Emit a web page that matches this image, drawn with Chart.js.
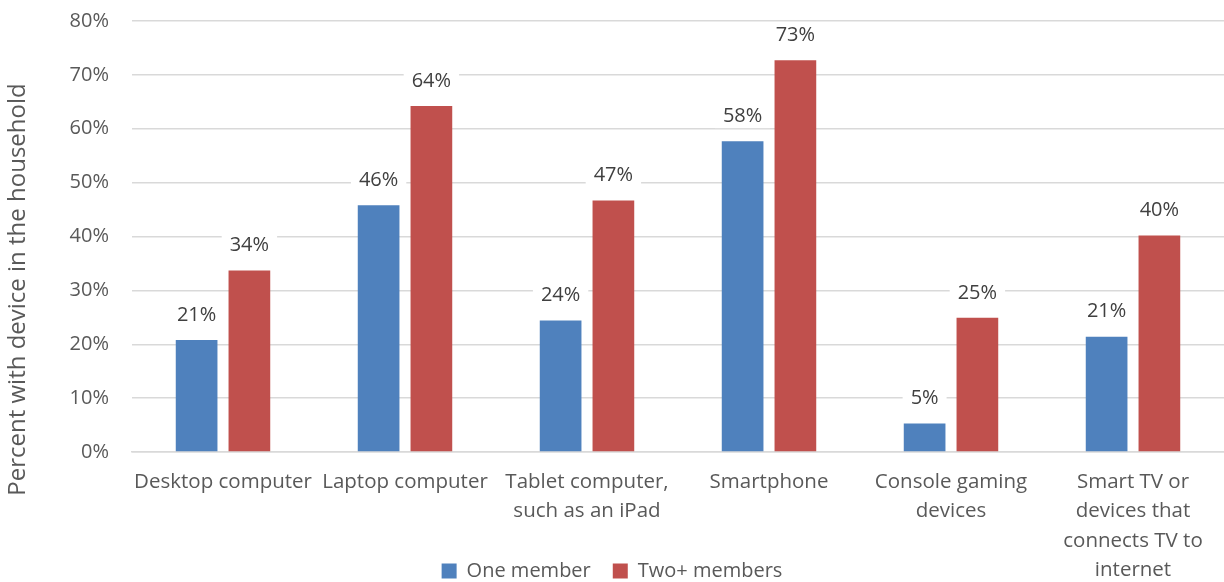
<!DOCTYPE html>
<html>
<head>
<meta charset="utf-8">
<script src="https://cdn.jsdelivr.net/npm/chart.js@4/dist/chart.umd.min.js"></script>
<style>
  html, body { margin: 0; padding: 0; background: #fff; }
  #wrap { width: 1224px; height: 582px; position: relative; }
</style>
</head>
<body>
<div id="wrap"><canvas id="deviceChart"></canvas></div>
<script>
// Categories and values
const categories = [
    ['Desktop computer'],
    ['Laptop computer'],
    ['Tablet computer,', 'such as an iPad'],
    ['Smartphone'],
    ['Console gaming', 'devices'],
    ['Smart TV or', 'devices that', 'connects TV to', 'internet']
];
const oneMember = [20.8, 45.8, 24.4, 57.7, 5.3, 21.4];
const twoPlusMembers = [33.7, 64.2, 46.7, 72.7, 24.9, 40.2];
const yTicks = [0, 10, 20, 30, 40, 50, 60, 70, 80];

const FONT = '"Open Sans", sans-serif';
const TEXT = '#595959';

// Small plugin to draw value labels with a white box above each bar
const barLabels = {
    id: 'barLabels',
    afterDatasetsDraw(chart) {
        const ctx = chart.ctx;
        ctx.save();
        ctx.font = '20px ' + FONT;
        ctx.textAlign = 'center';
        ctx.textBaseline = 'middle';
        chart.data.datasets.forEach((ds, i) => {
            chart.getDatasetMeta(i).data.forEach((bar, j) => {
                const txt = Math.round(ds.data[j]) + '%';
                const w = ctx.measureText(txt).width + 16;
                const y = bar.y - 25;
                ctx.fillStyle = '#fff';
                ctx.fillRect(bar.x - w / 2, y - 12, w, 24);
                ctx.fillStyle = '#404040';
                ctx.fillText(txt, bar.x, y);
            });
        });
        ctx.restore();
    }
};

// the axis title sits lower than the plot centre in the original,
// so pad its end with non-breaking spaces
const yTitle = 'Percent with device in the household' + '\u00A0'.repeat(17);

const ctx = document.getElementById('deviceChart').getContext('2d');
const deviceChart = new Chart(ctx, {
    type: 'bar',
    data: {
        labels: categories,
        datasets: [{
            label: 'One member',
            data: oneMember,
            backgroundColor: '#4f81bd',
            categoryPercentage: 0.58,
            barPercentage: 0.79
        }, {
            label: 'Two+ members',
            data: twoPlusMembers,
            backgroundColor: '#c0504d',
            categoryPercentage: 0.58,
            barPercentage: 0.79
        }]
    },
    options: {
        responsive: true,
        maintainAspectRatio: false,
        animation: false,
        layout: { padding: { top: 21, right: 0, left: 0, bottom: -9 } },
        plugins: {
            legend: {
                position: 'bottom',
                labels: {
                    font: { family: FONT, size: 20 },
                    color: TEXT,
                    boxWidth: 15,
                    boxHeight: 15,
                    padding: 22
                }
            },
            tooltip: { enabled: false }
        },
        scales: {
            x: {
                grid: { display: false, drawTicks: false },
                border: { color: '#d9d9d9', width: 1.5 },
                ticks: {
                    color: TEXT,
                    font: { family: FONT, size: 20.5, lineHeight: 1.44 },
                    padding: 15,
                    maxRotation: 0,
                    autoSkip: false
                },
                afterFit(scale) {
                    scale.height = 87;
                    // let the last label lines run into the legend area like the original
                    scale._computeLabelArea = () => undefined;
                }
            },
            y: {
                min: 0,
                max: 80,
                afterBuildTicks(scale) { scale.ticks = yTicks.map(v => ({ value: v })); },
                grid: { color: '#d9d9d9', lineWidth: 1.5, drawTicks: false },
                border: { display: false },
                ticks: {
                    color: TEXT,
                    font: { family: FONT, size: 20 },
                    padding: 23,
                    callback: v => v + '%'
                },
                title: {
                    display: true,
                    text: yTitle,
                    color: TEXT,
                    font: { family: FONT, size: 24 },
                    padding: { top: 4, bottom: 0 }
                },
                afterFit(scale) {
                    scale.width = 132;
                    scale.paddingTop = 0;
                    scale.paddingBottom = 0;
                }
            }
        }
    },
    plugins: [barLabels]
});
</script>
</body>
</html>
